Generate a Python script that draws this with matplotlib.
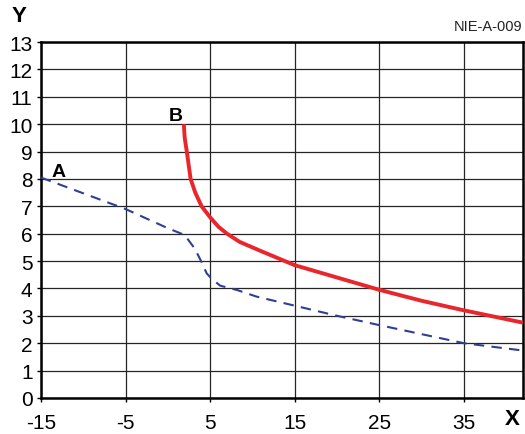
import matplotlib
matplotlib.use("Agg")
import matplotlib.pyplot as plt

plt.rcParams['font.family'] = ['Liberation Sans', 'DejaVu Sans']
plt.rcParams['axes.unicode_minus'] = False

# curve A (dashed blue)
a_x = [-15, -5, 0, 2, 3.2, 4, 4.6, 5.2, 6.2, 8.2, 10.5, 15, 20, 25, 30, 35, 42]
a_y = [8.05, 6.9, 6.2, 5.95, 5.45, 4.96, 4.55, 4.35, 4.1, 3.94, 3.7, 3.37, 3.0, 2.66, 2.33, 2.0, 1.73]

# curve B (solid red)
b_x = [1.9, 2.0, 2.25, 2.7, 3.25, 4.0, 5, 6, 7, 8.5, 10.9, 15, 20, 25, 30, 35, 42]
b_y = [10, 9.5, 9, 8, 7.5, 7, 6.6, 6.25, 6.0, 5.7, 5.38, 4.85, 4.4, 3.95, 3.55, 3.2, 2.75]

x_ticks = [-15, -5, 5, 15, 25, 35]
y_ticks = list(range(0, 14))

fig = plt.figure(figsize=(5.25, 4.35), dpi=100)
ax = fig.add_axes([0.078, 0.083, 0.918, 0.818])

ax.plot(a_x, a_y, color='#2f3f92', lw=1.5, ls=(0, (5, 3.5)), zorder=3)
ax.plot(b_x, b_y, color='#e8262c', lw=2.8, zorder=4, solid_capstyle='butt')

ax.set_xlim(-15, 42)
ax.set_ylim(0, 13)
ax.set_xticks(x_ticks)
ax.set_yticks(y_ticks)
ax.grid(True, color='#262626', lw=0.9)
ax.set_axisbelow(True)
for s in ax.spines.values():
    s.set_linewidth(1.8)
    s.set_color('black')
ax.tick_params(axis='both', labelsize=15, length=3, width=1, direction='out')
ax.tick_params(axis='y', pad=3)
ax.tick_params(axis='x', pad=8)

fig.text(0.036, 0.963, 'Y', fontsize=16, fontweight='bold', ha='center', va='center')
fig.text(0.975, 0.035, 'X', fontsize=16, fontweight='bold', ha='center', va='center')
fig.text(0.93, 0.938, 'NIE-A-009', fontsize=10.5, ha='center', va='center', color='#222222')
ax.text(-12.9, 8.1, 'A', fontsize=14, fontweight='bold', ha='center', va='baseline')
ax.text(1.0, 10.15, 'B', fontsize=14, fontweight='bold', ha='center', va='baseline')

fig.savefig('out.png', dpi=100)
